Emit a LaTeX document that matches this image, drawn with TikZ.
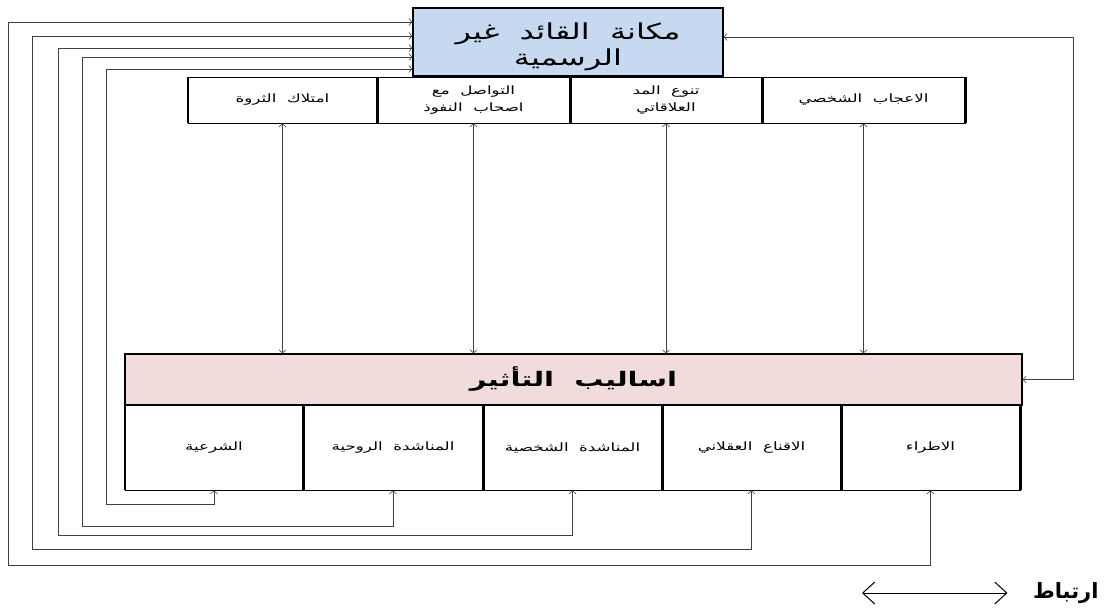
\documentclass[tikz,border=0pt]{standalone}
\usepackage{fontspec}
\newfontfamily\arabicfont[Script=Arabic, FakeStretch=1.45, WordSpace=2]{DejaVu Sans}
\newfontfamily\legendfont[Script=Arabic]{DejaVu Sans}
\TeXXeTstate=1
\usetikzlibrary{arrows.meta}
\definecolor{leaderblue}{RGB}{198,217,241}
\definecolor{stylepink}{RGB}{242,220,219}
\newcommand{\artext}[1]{{\arabicfont\beginR #1\endR}}
\begin{document}
\begin{tikzpicture}[x=1pt, y=-1pt,
		box/.style = {draw, line width=0.8pt, fill=white, align=center, inner sep=0pt, font=\fontsize{11.5}{17}\selectfont},
		topbox/.style = {box, minimum height=46pt},
		stylebox/.style = {box, minimum height=85pt},
		link/.style = {draw=black!75, line width=0.6pt, {Straight Barb[length=3pt,width=7pt]}-{Straight Barb[length=3pt,width=7pt]}},
		edge/.style = {line width=2.2pt}]
	
	\useasboundingbox (0,0) rectangle (1110,608);
	
	\node[draw, line width=1.5pt, fill=leaderblue, minimum width=310pt, minimum height=68pt, inner ysep=0pt, align=center, font=\fontsize{22}{26}\selectfont] (makana) at (568,42) {\rule{0pt}{27pt}\artext{مكانة القائد غير}\\\artext{الرسمية}};
	
	\node[topbox, minimum width=189pt] (tharwa) at (282.5,100) {\artext{امتلاك الثروة}};
	\node[topbox, minimum width=193pt] (tawasul) at (473.5,100) {\artext{التواصل مع}\\\artext{اصحاب النفوذ}};
	\node[topbox, minimum width=192pt] (tanawu) at (666,100) {\artext{تنوع المد}\\\artext{العلاقاتي}};
	\node[topbox, minimum width=203pt] (ijab) at (863.5,100) {\artext{الاعجاب الشخصي}};
	
	\node[draw, line width=1.5pt, fill=stylepink, minimum width=897pt, minimum height=51pt, font=\bfseries\fontsize{20}{22}\selectfont] (asalib) at (573.5,379.5) {\artext{اساليب التأثير}};
	
	\node[stylebox, minimum width=178pt] (sharia) at (214,447.5) {\artext{الشرعية}};
	\node[stylebox, minimum width=180pt] (ruhiya) at (393,447.5) {\artext{المناشدة الروحية}};
	\node[stylebox, minimum width=179pt] (shakhsiya) at (572.5,447.5) {\artext{المناشدة الشخصية}};
	\node[stylebox, minimum width=179pt] (iqna) at (751.5,447.5) {\artext{الاقناع العقلاني}};
	\node[stylebox, minimum width=179pt] (itra) at (930.5,447.5) {\artext{الاطراء}};
	
	\foreach \nd in {tharwa,tawasul,tanawu,ijab,sharia,ruhiya,shakhsiya,iqna,itra}
		\draw[edge] (\nd.north west) -- (\nd.south west) (\nd.north east) -- (\nd.south east);
	
	% links between the two rows
	\foreach \nd in {tharwa,tawasul,tanawu,ijab}
		\draw[link] (\nd.south) -- (\nd.south |- asalib.north);
	
	% loops round the left side
	\foreach \nd/\lx/\ty/\by in {sharia/106/69/504, ruhiya/82/57/526, shakhsiya/58/48/535, iqna/32/36/549, itra/8/22/565}
		\draw[link] (makana.west |- 0,\ty) -| (\lx,\by) -| (\nd.south);
	
	\draw[link] (makana.east |- 0,37) -| (asalib.east -| 1073,0) -- (asalib.east);
	
	% legend
	\node[font=\legendfont\bfseries\fontsize{21}{24}\selectfont, anchor=east] (legend) at (1102,593) {\beginR ارتباط\endR};
	\coordinate (legstart) at (862,593);
	\draw[line width=1pt, {Straight Barb[length=12pt,width=22pt]}-{Straight Barb[length=12pt,width=22pt]}] (legstart) -- ([xshift=-22pt]legend.west);
	
\end{tikzpicture}
\end{document}
